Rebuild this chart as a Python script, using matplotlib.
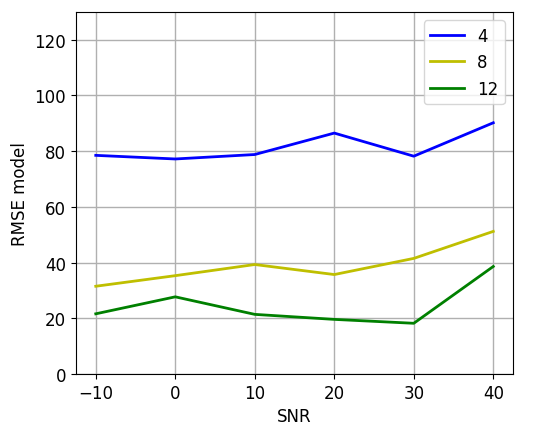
import numpy as np
import matplotlib
matplotlib.use('Agg')
import matplotlib.pyplot as plt

snr = [-10, 0, 10, 20, 30, 40]
rmse_4 = [78.5, 77.2, 78.8, 86.5, 78.2, 90.2]
rmse_8 = [31.5, 35.3, 39.3, 35.7, 41.5, 51.2]
rmse_12 = [21.6, 27.7, 21.4, 19.6, 18.2, 38.6]

plt.rcParams['font.size'] = 12

fig = plt.figure(figsize=(5.5, 4.31), dpi=100)
ax = fig.add_axes([0.138, 0.130, 0.795, 0.840])

ax.plot(snr, rmse_4, color='b', lw=2, label='4')
ax.plot(snr, rmse_8, color='y', lw=2, label='8')
ax.plot(snr, rmse_12, color='g', lw=2, label='12')

ax.set_ylim(0, 130)
ax.set_yticks([0, 20, 40, 60, 80, 100, 120])
ax.set_xticks(snr)
ax.grid(True, color='#b0b0b0', lw=1)
ax.set_xlabel('SNR')
ax.set_ylabel('RMSE model')
ax.legend(loc='upper right')

fig.savefig('out.png', dpi=100)
